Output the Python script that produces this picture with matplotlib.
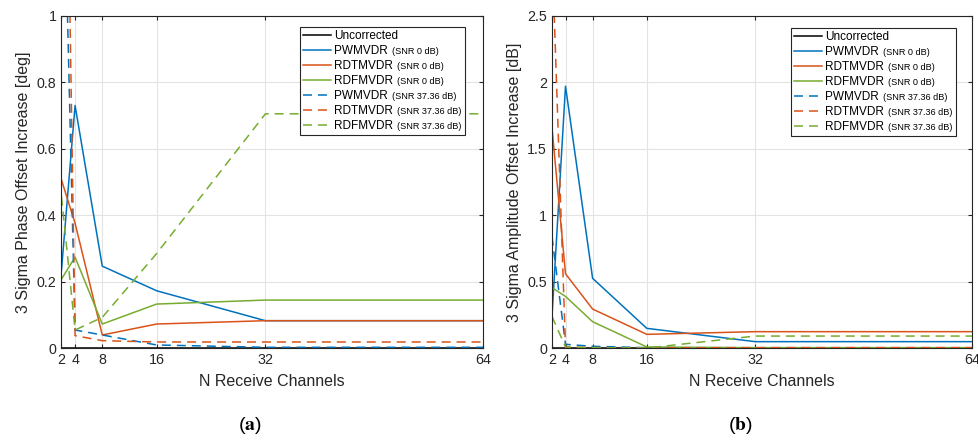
import matplotlib
matplotlib.use("Agg")
import matplotlib.pyplot as plt
from matplotlib.offsetbox import TextArea

plt.rcParams['font.family'] = ['Liberation Sans', 'DejaVu Sans']
plt.rcParams['mathtext.fontset'] = 'stix'

channels = [2, 4, 8, 16, 32, 64]
xticks = [2, 4, 8, 16, 32, 64]

# Phase (deg)
phase_uncorr = [0, 0, 0, 0, 0, 0]
phase_pw_0 = [0.235, 0.73, 0.247, 0.173, 0.083, 0.083]
phase_rdt_0 = [0.506, 0.376, 0.04, 0.073, 0.083, 0.083]
phase_rdf_0 = [0.208, 0.274, 0.073, 0.133, 0.145, 0.145]
phase_pw_37 = [1.75, 0.055, 0.04, 0.01, 0.003, 0.003]
phase_rdt_37 = [2.6, 0.038, 0.023, 0.019, 0.019, 0.019]
phase_rdf_37 = [0.456, 0.055, 0.093, 0.285, 0.705, 0.705]

# Amplitude (dB)
amp_uncorr = [0, 0, 0, 0, 0, 0]
amp_pw_0 = [0.237, 1.97, 0.526, 0.15, 0.05, 0.05]
amp_rdt_0 = [1.66, 0.56, 0.295, 0.105, 0.125, 0.125]
amp_rdf_0 = [0.456, 0.39, 0.2, 0.01, 0.005, 0.005]
amp_pw_37 = [0.84, 0.03, 0.015, 0.005, 0.002, 0.002]
amp_rdt_37 = [3.0, 0.01, 0.005, 0.003, 0.005, 0.005]
amp_rdf_37 = [0.24, 0.01, 0.005, 0.002, 0.092, 0.092]

names = ['Uncorrected', 'PWMVDR', 'RDTMVDR', 'RDFMVDR', 'PWMVDR', 'RDTMVDR', 'RDFMVDR']
snr_tags = ['', '(SNR 0 dB)', '(SNR 0 dB)', '(SNR 0 dB)',
            '(SNR 37.36 dB)', '(SNR 37.36 dB)', '(SNR 37.36 dB)']

colors = ['#000000', '#0072BD', '#D95319', '#77AC30', '#0072BD', '#D95319', '#77AC30']
styles = ['-', '-', '-', '-', '--', '--', '--']
TXT = '#262626'

fig = plt.figure(figsize=(9.79, 4.41), dpi=100)
ax1 = fig.add_axes([0.0628, 0.2102, 0.4305, 0.7542])
ax2 = fig.add_axes([0.5638, 0.2102, 0.4290, 0.7542])

panels = [
    (ax1, [phase_uncorr, phase_pw_0, phase_rdt_0, phase_rdf_0, phase_pw_37, phase_rdt_37, phase_rdf_37],
     (0, 1), [0, 0.2, 0.4, 0.6, 0.8, 1], ['0', '0.2', '0.4', '0.6', '0.8', '1'],
     '3 Sigma Phase Offset Increase [deg]', (1 - 18 / 421.5, 1 - 11 / 332.6)),
    (ax2, [amp_uncorr, amp_pw_0, amp_rdt_0, amp_rdf_0, amp_pw_37, amp_rdt_37, amp_rdf_37],
     (0, 2.5), [0, 0.5, 1, 1.5, 2, 2.5], ['0', '0.5', '1', '1.5', '2', '2.5'],
     '3 Sigma Amplitude Offset Increase [dB]', (1 - 16 / 420, 1 - 12 / 332.6)),
]

for ax, series, ylim, yt, ytl, ylabel, anchor in panels:
    for i, s in enumerate(series):
        ax.plot(channels, s, color=colors[i], ls=styles[i], lw=1.1,
                dashes=(5.9, 3.9) if styles[i] == '--' else (None, None), label=names[i])
    ax.set_xlim(2, 64)
    ax.set_ylim(*ylim)
    ax.set_xticks(xticks)
    ax.set_xticklabels([str(t) for t in xticks])
    ax.set_yticks(yt)
    ax.set_yticklabels(ytl)
    ax.grid(True, color='#e3e3e3', lw=0.8)
    ax.set_axisbelow(True)
    ax.tick_params(direction='in', length=3, top=True, right=True, labelsize=10.3,
                   colors=TXT, labelcolor=TXT, width=0.8)
    for sp in ax.spines.values():
        sp.set_color(TXT)
        sp.set_linewidth(0.8)
    ax.set_xlabel('N Receive Channels', fontsize=11.5, color=TXT, labelpad=5)
    ax.set_ylabel(ylabel, fontsize=11.5, color=TXT, labelpad=4)
    leg = ax.legend(loc='upper right', bbox_to_anchor=anchor, borderaxespad=0,
                    fontsize=8.5, frameon=True, fancybox=False,
                    edgecolor=TXT, framealpha=1, handlelength=2.35, handletextpad=0.3,
                    labelspacing=0.25, borderpad=0.3)
    leg.get_frame().set_linewidth(0.8)
    for t in leg.get_texts():
        t.set_color('#000000')
    # append the smaller "(SNR ...)" part to each legend entry
    items = [it for col in leg._legend_handle_box.get_children() for it in col.get_children()]
    for i, it in enumerate(items):
        if snr_tags[i]:
            ta = TextArea(snr_tags[i], textprops=dict(fontsize=6.6, color='#000000'))
            it.get_children().append(ta)
    leg._legend_box.set_figure(fig)

fig.text(250 / 979, 1 - 425 / 441, r'($\mathbf{a}$)', fontsize=14, ha='center', va='center', color='#000000')
fig.text(740 / 979, 1 - 425 / 441, r'($\mathbf{b}$)', fontsize=14, ha='center', va='center', color='#000000')

fig.savefig('out.png', dpi=100)
